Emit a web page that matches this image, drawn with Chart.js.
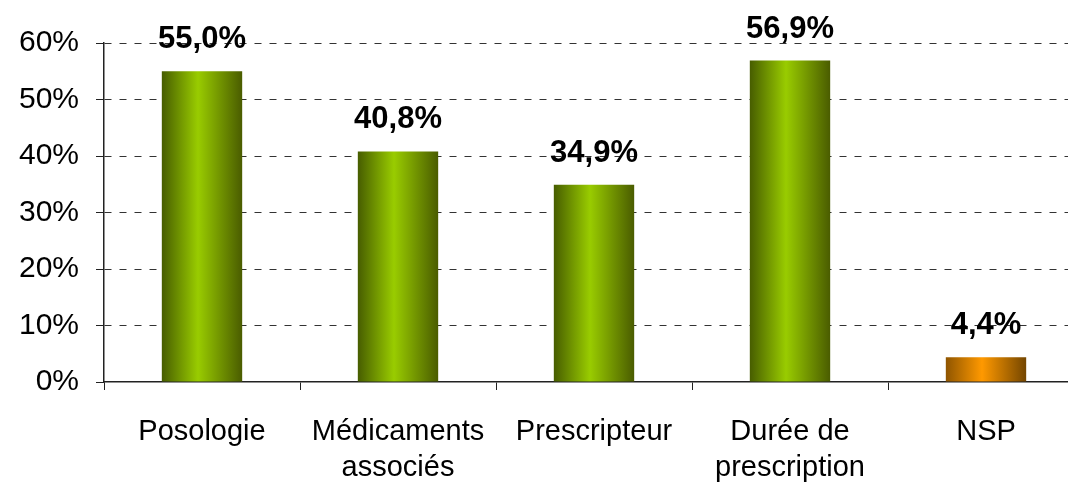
<!DOCTYPE html>
<html lang="fr">
<head>
<meta charset="UTF-8">
<title>Informations demandées</title>
<script src="https://cdn.jsdelivr.net/npm/chart.js@4.4.1/dist/chart.umd.min.js"></script>
<style>
    html, body { margin: 0; padding: 0; background: #fff; overflow: hidden; }
    #wrap { position: relative; width: 1090px; height: 485px; }
</style>
</head>
<body>
<div id="wrap"><canvas id="chart"></canvas></div>
<script>
    const categories = ['Posologie', ['Médicaments', 'associés'], 'Prescripteur', ['Durée de', 'prescription'], 'NSP'];
    const values = [55.0, 40.8, 34.9, 56.9, 4.4];
    const valueLabels = ['55,0%', '40,8%', '34,9%', '56,9%', '4,4%'];
    const barColors = ['green', 'green', 'green', 'green', 'orange'];
    const yTicks = [0, 10, 20, 30, 40, 50, 60];

    const FONT = "'Liberation Sans', Arial, sans-serif";
    const BAR_PCT = 0.41;

    const stops = {
        green: ['#475d00', '#99cc00', '#4a5c00'],
        orange: ['#8f5500', '#ff9900', '#744600']
    };

    function barFill(ctx) {
        const chart = ctx.chart;
        const x = chart.scales.x;
        const s = stops[barColors[ctx.dataIndex]] || stops.green;
        if (!x || ctx.dataIndex === undefined) return s[1];
        const cx = x.getPixelForValue(ctx.dataIndex);
        const half = (x.width / categories.length) * BAR_PCT / 2;
        if (!isFinite(cx) || !isFinite(half) || half <= 0) return s[1];
        const g = chart.ctx.createLinearGradient(cx - half, 0, cx + half, 0);
        g.addColorStop(0, s[0]);
        g.addColorStop(0.45, s[1]);
        g.addColorStop(1, s[2]);
        return g;
    }

    // etiquettes de valeur au-dessus des barres
    const valueLabelPlugin = {
        id: 'valueLabels',
        afterDatasetsDraw(chart) {
            const c = chart.ctx;
            const meta = chart.getDatasetMeta(0);
            c.save();
            c.font = 'bold 31px ' + FONT;
            c.fillStyle = '#000';
            c.textAlign = 'center';
            c.textBaseline = 'alphabetic';
            meta.data.forEach((bar, i) => {
                c.fillText(valueLabels[i], bar.x, bar.y - 23);
            });
            c.restore();
        }
    };

    new Chart(document.getElementById('chart'), {
        type: 'bar',
        data: {
            labels: categories,
            datasets: [{
                data: values,
                backgroundColor: barFill,
                borderWidth: 0,
                barPercentage: BAR_PCT,
                categoryPercentage: 1
            }]
        },
        options: {
            responsive: true,
            maintainAspectRatio: false,
            animation: false,
            layout: { padding: { top: 43, right: 6, left: 0, bottom: 0 } },
            plugins: {
                legend: { display: false },
                tooltip: { enabled: false }
            },
            scales: {
                x: {
                    offset: true,
                    grid: {
                        offset: true,
                        drawOnChartArea: false,
                        color: '#222',
                        tickLength: 8
                    },
                    border: { color: '#222', width: 1.5 },
                    ticks: {
                        color: '#000',
                        font: { family: FONT, size: 29, lineHeight: 1.24 },
                        padding: 24,
                        maxRotation: 0,
                        autoSkip: false
                    },
                    afterFit(scale) { scale.height = 103; }
                },
                y: {
                    min: 0,
                    max: 60,
                    afterBuildTicks(scale) { scale.ticks = yTicks.map(v => ({ value: v })); },
                    grid: {
                        color: ctx => (ctx.tick && ctx.tick.value === 0) ? 'rgba(0,0,0,0)' : '#333',
                        tickLength: 8,
                        tickColor: '#222',
                        tickBorderDash: [],
                        lineWidth: 1
                    },
                    border: { color: '#222', width: 1.5, dash: [7, 8] },
                    ticks: {
                        color: '#000',
                        font: { family: FONT, size: 30 },
                        padding: 17,
                        callback: v => v + '%'
                    },
                    afterFit(scale) { scale.width = 104; }
                }
            }
        },
        plugins: [valueLabelPlugin]
    });
</script>
</body>
</html>
